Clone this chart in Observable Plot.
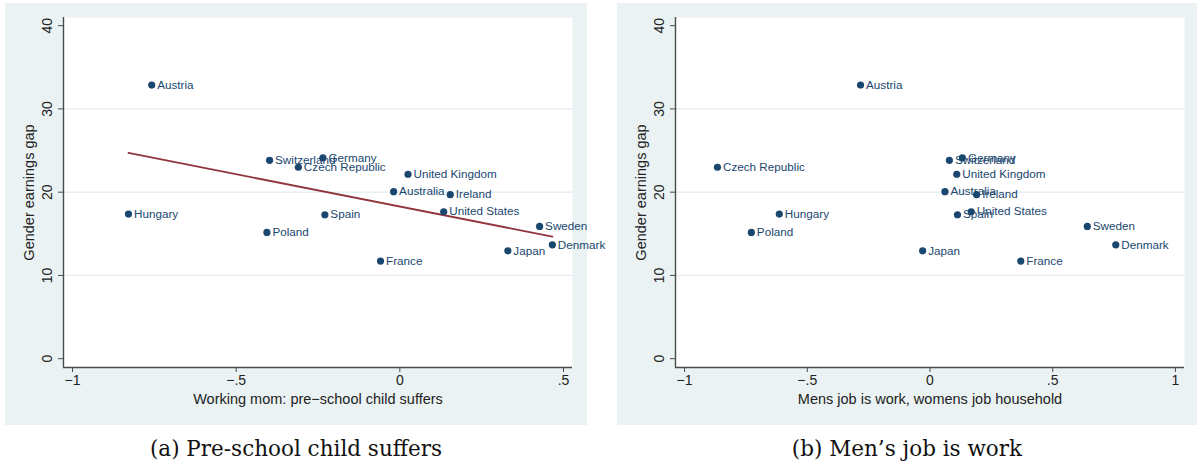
<!DOCTYPE html>
<html>
<head>
<meta charset="utf-8">
<script src="https://cdn.jsdelivr.net/npm/d3@7"></script>
<script src="https://cdn.jsdelivr.net/npm/@observablehq/plot@0.6"></script>
<style>
  html, body { margin: 0; padding: 0; background: #ffffff; }
  #page { position: relative; width: 1197px; height: 469px; overflow: hidden; }
  .panel { position: absolute; top: 3px; }
  .caption { position: absolute; top: 434px; height: 30px; line-height: 30px; text-align: center;
             font-family: "DejaVu Serif", "Liberation Serif", serif; font-size: 21.5px; color: #111; white-space: nowrap; }
</style>
</head>
<body>
<div id="page">
  <div class="panel" id="left" style="left:5px"></div>
  <div class="panel" id="right" style="left:617px"></div>
  <div class="caption" id="capA" style="left:96px; width:400px"></div>
  <div class="caption" id="capB" style="left:707px; width:400px"></div>
</div>
<script>
// ---- data ----
const countries = ["Austria","Switzerland","Germany","Czech Republic","United Kingdom","Australia","Ireland","United States","Hungary","Spain","Poland","Sweden","Denmark","Japan","France"];
const earningsGap = [32.86, 23.83, 24.11, 22.99, 22.15, 20.06, 19.70, 17.65, 17.37, 17.29, 15.17, 15.89, 13.68, 12.96, 11.72];
const childSuffers = [-0.758, -0.398, -0.235, -0.310, 0.025, -0.019, 0.154, 0.134, -0.829, -0.229, -0.406, 0.427, 0.466, 0.330, -0.059];
const mensJobWork = [-0.283, 0.079, 0.132, -0.866, 0.109, 0.061, 0.190, 0.168, -0.614, 0.112, -0.728, 0.641, 0.757, -0.030, 0.370];
const yTicks = [0, 10, 20, 30, 40];
const yGrid = [10, 20, 30];
const xTicksA = [-1, -0.5, 0, 0.5];
const xTicksB = [-1, -0.5, 0, 0.5, 1];
const yLabel = "Gender earnings gap";
const xLabelA = "Working mom: pre\u2212school child suffers";
const xLabelB = "Mens job is work, womens job household";
const captionA = "(a) Pre-school child suffers";
const captionB = "(b) Men\u2019s job is work";

// ---- styling ----
const BG = "#EAF2F3";
const NAVY = "#1A476F";
const MAROON = "#90353B";
const GRID = "#E2EBEE";
const AXIS = "#4a4a4a";
const FONT = "'Liberation Sans', Arial, Helvetica, sans-serif";

const fmt = d => {
  if (d === 0) return "0";
  const s = String(Math.abs(d)).replace(/^0\./, ".");
  return (d < 0 ? "\u2212" : "") + s;
};

function panel(xs, xDomain, xTicks, xLabel, width, marginRight, withFit) {
  const data = countries.map((c, i) => ({country: c, x: xs[i], y: earningsGap[i]}));
  const yDomain = [-1.06, 40.98];
  return Plot.plot({
    width, height: 422,
    marginLeft: 58, marginRight, marginTop: 14, marginBottom: 58,
    style: {background: BG, fontFamily: FONT, overflow: "visible"},
    x: {domain: xDomain},
    y: {domain: yDomain},
    marks: [
      Plot.frame({fill: "white", stroke: null}),
      Plot.gridY(yGrid, {stroke: GRID, strokeOpacity: 1, strokeWidth: 1.2}),
      Plot.ruleX([xDomain[0]], {stroke: AXIS, strokeWidth: 1.4}),
      Plot.ruleY([yDomain[0]], {stroke: AXIS, strokeWidth: 1.4}),
      Plot.axisX({ticks: xTicks, tickSize: 5, tickPadding: 3, tickFormat: fmt, fontSize: 14, stroke: AXIS, fill: "#222", label: null}),
      Plot.axisY({ticks: yTicks, tickSize: 5, tickFormat: () => "", stroke: AXIS, label: null}),
      Plot.text(yTicks, {y: d => d, text: d => fmt(d), frameAnchor: "left", dx: -16, rotate: -90, textAnchor: "middle", lineAnchor: "middle", fontSize: 14, fill: "#222"}),
      Plot.text([yLabel], {frameAnchor: "left", dx: -34, rotate: -90, textAnchor: "middle", lineAnchor: "middle", fontSize: 14.5, fill: "#222"}),
      Plot.text([xLabel], {frameAnchor: "bottom", dy: 32, textAnchor: "middle", lineAnchor: "middle", fontSize: 14.5, fill: "#222"}),
      withFit ? Plot.linearRegressionY(data, {x: "x", y: "y", ci: 0, stroke: MAROON, strokeWidth: 1.8}) : null,
      Plot.dot(data, {x: "x", y: "y", r: 3.6, fill: NAVY, stroke: null}),
      Plot.text(data, {x: "x", y: "y", text: "country", textAnchor: "start", dx: 5.5, lineAnchor: "middle", fontSize: 11.7, fill: NAVY})
    ]
  });
}

document.getElementById("left").appendChild(panel(childSuffers, [-1.0275, 0.5275], xTicksA, xLabelA, 582, 15, true));
document.getElementById("right").appendChild(panel(mensJobWork, [-1.037, 1.037], xTicksB, xLabelB, 580, 13, false));
document.getElementById("capA").textContent = captionA;
document.getElementById("capB").textContent = captionB;
</script>
</body>
</html>
